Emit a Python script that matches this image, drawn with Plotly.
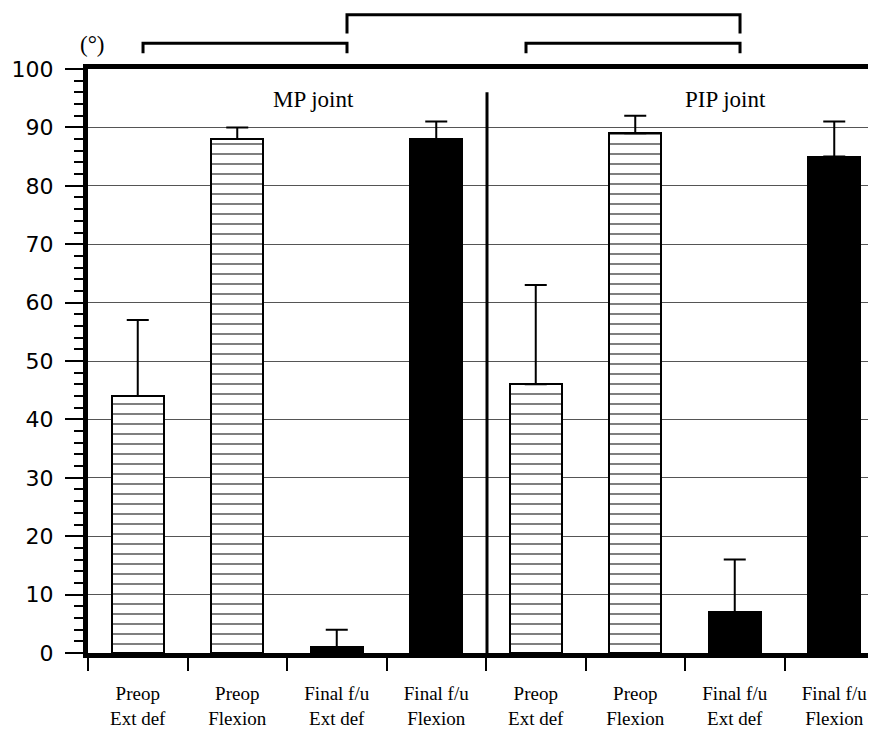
import plotly.graph_objects as go

# ---- data ----
labels = ["Preop<br>Ext def", "Preop<br>Flexion", "Final f/u<br>Ext def", "Final f/u<br>Flexion",
          "Preop<br>Ext def", "Preop<br>Flexion", "Final f/u<br>Ext def", "Final f/u<br>Flexion"]
preop_pos = [0, 1, 4, 5]
preop_vals = [44, 88, 46, 89]
preop_err = [13, 2, 17, 3]
final_pos = [2, 3, 6, 7]
final_vals = [1, 88, 7, 85]
final_err = [3, 3, 9, 6]
y_ticks = list(range(0, 101, 10))

# layout geometry (figure pixels; page adds an 8px body margin)
W, H = 868, 721
L, T, PW, PH = 80, 61, 788, 593
CAT = 99.5

fig = go.Figure()
fig.add_trace(go.Bar(
    x=preop_pos, y=preop_vals, width=0.52,
    marker=dict(color="white", line=dict(color="black", width=2),
                pattern=dict(shape="-", fgcolor="black", bgcolor="white", size=10, solidity=0.2)),
    error_y=dict(type="data", symmetric=False, array=preop_err, arrayminus=[0] * 4,
                 color="black", thickness=2, width=11),
    showlegend=False))
fig.add_trace(go.Bar(
    x=final_pos, y=final_vals, width=0.52,
    marker=dict(color="black", line=dict(color="black", width=2)),
    error_y=dict(type="data", symmetric=False, array=final_err, arrayminus=[0] * 4,
                 color="black", thickness=2, width=11),
    showlegend=False))

serif = "Liberation Serif, Times New Roman, serif"

# divider between MP and PIP
fig.add_shape(type="line", xref="x", yref="y", x0=3.51, x1=3.51, y0=0, y1=96,
              line=dict(color="black", width=3))

# brackets (y in paper units = value/100)
def bracket(x0, x1, ytop, ybot):
    fig.add_shape(type="path", xref="x", yref="paper",
                  path=f"M {x0},{ybot/100} L {x0},{ytop/100} L {x1},{ytop/100} L {x1},{ybot/100}",
                  line=dict(color="black", width=3))

bracket(0.053, 2.103, 104.4, 102.7)
bracket(2.103, 6.053, 109.3, 106.1)
bracket(3.902, 6.053, 104.4, 102.7)

fig.add_annotation(x=1.77, y=94.8, xref="x", yref="y", text="MP joint", showarrow=False,
                   font=dict(family=serif, size=23, color="black"))
fig.add_annotation(x=5.91, y=94.8, xref="x", yref="y", text="PIP joint", showarrow=False,
                   font=dict(family=serif, size=23, color="black"))
fig.add_annotation(x=(84 - L) / PW, y=(T + PH - 36) / PH, xref="paper", yref="paper",
                   xanchor="center", yanchor="middle", text="(°)", showarrow=False,
                   font=dict(family=serif, size=23, color="black"))

fig.update_layout(
    width=W, height=H,
    margin=dict(l=L, r=W - L - PW, t=T, b=H - T - PH),
    paper_bgcolor="white", plot_bgcolor="white",
    barmode="overlay", bargap=0,
    xaxis=dict(range=[-0.5, -0.5 + PW / CAT], tickmode="array", tickvals=list(range(8)),
               ticktext=labels, ticks="", showgrid=False, zeroline=False,
               showline=True, linecolor="black", linewidth=5, mirror=True,
               tickfont=dict(family=serif, size=19, color="black"),
               ticklabelstandoff=19,
               minor=dict(tick0=-0.5, dtick=1, ticks="outside", ticklen=13, tickwidth=2,
                          tickcolor="black", showgrid=False)),
    yaxis=dict(range=[0, 100], tickmode="array", tickvals=y_ticks,
               ticks="outside", ticklen=18, tickwidth=2, tickcolor="black",
               showgrid=True, gridcolor="#555555", gridwidth=1, zeroline=False,
               showline=True, linecolor="black", linewidth=5, mirror=False,
               tickfont=dict(family="DejaVu Sans, sans-serif", size=22, color="black"),
               ticklabelstandoff=7,
               minor=dict(dtick=2, ticks="outside", ticklen=9, tickwidth=1.5,
                          tickcolor="black", showgrid=False)),
)

fig.write_html("out.html")
